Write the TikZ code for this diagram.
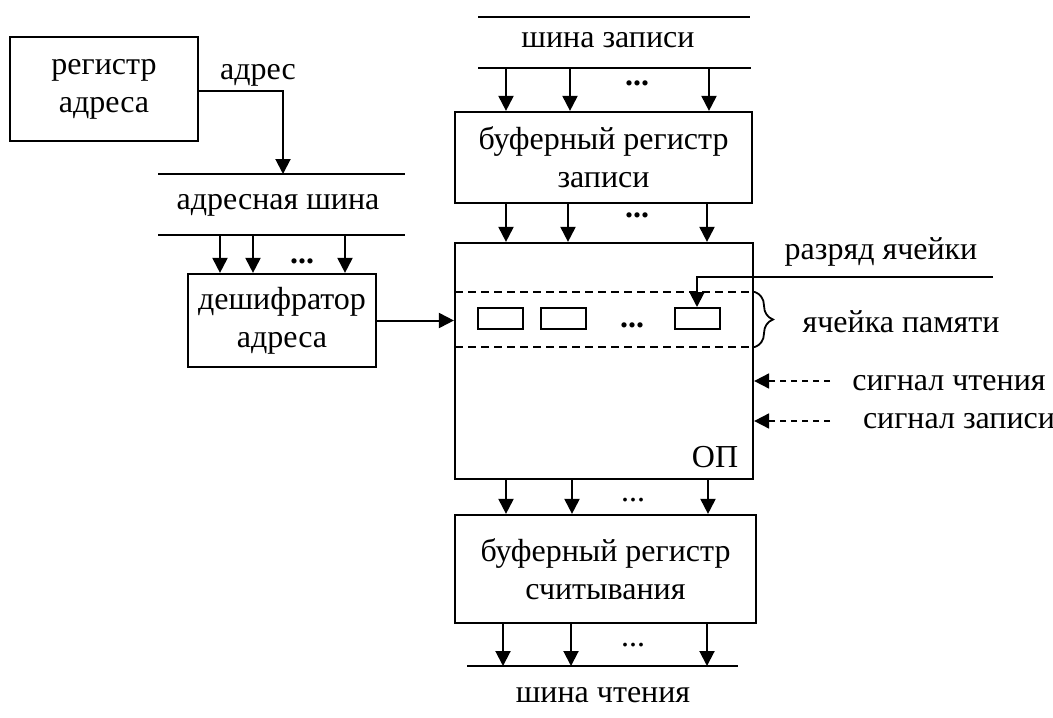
\documentclass[tikz,border=0pt]{standalone}
\usepackage{fontspec}
\setmainfont{Liberation Serif}
\usetikzlibrary{arrows.meta,decorations.pathreplacing}
\begin{document}
\begin{tikzpicture}[x=0.5pt,y=-0.5pt,
  every node/.style={font=\fontsize{16}{19}\selectfont},
  box/.style={draw,line width=1.1pt,inner sep=0pt,align=center},
  cellbox/.style={draw,line width=1pt,inner sep=0pt,minimum width=22.5pt,minimum height=10.5pt},
  arr/.style={line width=1pt,-{Triangle[length=7.5pt,width=7.5pt]}},
  busline/.style={line width=1pt},
  cellline/.style={line width=1pt,dash pattern=on 4pt off 2.5pt},
  sigarr/.style={line width=0.9pt,dash pattern=on 3pt off 2.5pt,-{Triangle[length=7.5pt,width=7.5pt]}},
  lbl/.style={inner sep=0pt,anchor=center}]
\useasboundingbox (0,0) rectangle (1053,717);

% boxes
\node[box,minimum width=94pt,minimum height=52pt] (regA) at (104,89) {регистр\\адреса};
\node[box,minimum width=94pt,minimum height=46.5pt] (dec) at (282,320.5) {дешифратор\\адреса};
\node[box,minimum width=148.5pt,minimum height=45.5pt] (wb) at (603.5,157.5) {буферный регистр\\записи};
\node[box,minimum width=149pt,minimum height=118pt] (mem) at (604,361) {};
\node[box,minimum width=150.5pt,minimum height=54pt] (rb) at (605.5,569) {буферный регистр\\считывания};

% cells
\node[cellbox] (c1) at (500.5,318.5) {};
\node[cellbox] (c2) at (563,318.5) {};
\node[cellbox] (c3) at (697,318.5) {};

% buses
\coordinate (ab1L) at (158,174); \coordinate (ab1R) at (405,174);
\coordinate (ab2L) at (158,235); \coordinate (ab2R) at (405,235);
\coordinate (wb1L) at (478,17);  \coordinate (wb1R) at (750,17);
\coordinate (wb2L) at (478,68);  \coordinate (wb2R) at (751,68);
\coordinate (rbL) at (467,666);  \coordinate (rbR) at (738,666);
\draw[busline] (ab1L) -- (ab1R);
\draw[busline] (ab2L) -- (ab2R);
\draw[busline] (wb1L) -- (wb1R);
\draw[busline] (wb2L) -- (wb2R);
\draw[busline] (rbL) -- (rbR);

% labels
\node[lbl] (tAdr) at (258,75) {адрес};
\node[lbl] (tAB) at (278,205) {адресная шина};
\node[lbl] (tWB) at (608,40) {шина записи};
\node[lbl] (tRB) at (603,695) {шина чтения};
\node[lbl] (tRaz) at (881,252) {разряд ячейки};
\node[lbl] (tCell) at (901,322) {ячейка памяти};
\node[lbl] (tRd) at (949,383) {сигнал чтения};
\node[lbl] (tWr) at (959,421) {сигнал записи};
\node[lbl] (tOP) at (715,457) {ОП};

% dots
\node[lbl] (d1) at (302,261) {\textbf{...}};
\node[lbl] (d2) at (637,83) {\textbf{...}};
\node[lbl] (d3) at (637,215) {\textbf{...}};
\node[lbl] (d4) at (632,325) {\textbf{...}};
\node[lbl] (d5) at (633,500) {...};
\node[lbl] (d6) at (633,645) {...};

% register -> address bus
\coordinate (aIn) at (283,174);
\draw[arr] (regA.east |- 0,91) -| (aIn);

% address bus -> decoder
\foreach \x in {220,253,345}{
  \coordinate (t) at (\x,235);
  \draw[arr] (t) -- (t |- dec.north);
}
% decoder -> memory
\draw[arr] (dec.east) -- (dec.east -| mem.west);

% write bus -> write buffer
\foreach \x in {506,570,709}{
  \coordinate (t) at (\x,68);
  \draw[arr] (t) -- (t |- wb.north);
}
% write buffer -> memory
\foreach \x in {506,568,707}{
  \coordinate (t) at (\x,203);
  \draw[arr] (t |- wb.south) -- (t |- mem.north);
}
% memory -> read buffer
\foreach \x in {506,572,708}{
  \coordinate (t) at (\x,479);
  \draw[arr] (t |- mem.south) -- (t |- rb.north);
}
% read buffer -> read bus
\foreach \x in {503,571,707}{
  \coordinate (t) at (\x,623);
  \draw[arr] (t |- rb.south) -- (t |- rbL);
}

% cell boundaries
\coordinate (cu1) at (455,292); \coordinate (cu2) at (755,292);
\coordinate (cl1) at (455,347); \coordinate (cl2) at (755,347);
\draw[cellline] (cu1) -- (cu2);
\draw[cellline] (cl1) -- (cl2);
\draw[line width=0.9pt,decorate,decoration={brace,amplitude=9pt}] (cu2) -- (cl2);

% bit line
\coordinate (razR) at (993,277);
\draw[arr] (razR) -| (c3.north);

% signals
\coordinate (sR) at (830,381);
\coordinate (sW) at (830,421);
\draw[sigarr] (sR) -- (sR -| mem.east);
\draw[sigarr] (sW) -- (sW -| mem.east);
\end{tikzpicture}
\end{document}
